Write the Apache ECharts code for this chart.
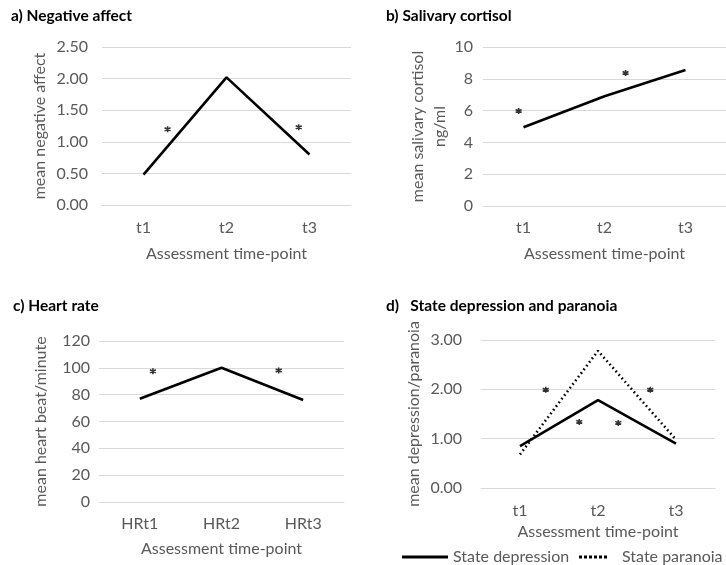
<!DOCTYPE html>
<html>
<head>
<meta charset="utf-8">
<script src="https://cdn.jsdelivr.net/npm/echarts@6/dist/echarts.min.js"></script>
<style>html,body{margin:0;padding:0;background:#fff}#c{width:726px;height:565px}</style>
</head>
<body>
<div id="c"></div>
<script>
// ---- data ----
const timeCats = ['t1', 't2', 't3'];
const hrCats = ['HRt1', 'HRt2', 'HRt3'];
const negativeAffect = [0.48, 2.02, 0.80];
const cortisol = [4.95, 6.9, 8.55];
const heartRate = [77, 100, 76];
const stateDepression = [0.85, 1.78, 0.90];
const stateParanoia = [0.68, 2.78, 0.98];
// significance asterisks: [position along category index, value]
const starsA = [[0.29, 1.20], [1.87, 1.23]];
const starsB = [[-0.06, 5.97], [1.26, 8.37]];
const starsC = [[0.16, 97.5], [1.70, 98]];
const starsD = [[0.33, 1.99], [0.76, 1.34], [1.26, 1.32], [1.67, 1.99]];
// y axis ticks
const yTicksA = [0, 0.5, 1, 1.5, 2, 2.5];
const yTicksB = [0, 2, 4, 6, 8, 10];
const yTicksC = [0, 20, 40, 60, 80, 100, 120];
const yTicksD = [0, 1, 2, 3];

const FONT = 'Lato';
const GREY = '#595959';
const GRID = '#d9d9d9';
const FS = 16;

const grids = [
  {left: 102, top: 47, width: 249, height: 158},
  {left: 483, top: 47, width: 261, height: 159},
  {left: 99, top: 341, width: 245, height: 161},
  {left: 481, top: 340, width: 234, height: 148}
];

function ticksAxis(t) {
  return {min: t[0], max: t[t.length - 1], interval: t[1] - t[0]};
}

function yAxis(i, ticks, name, gap, labMargin, fmt) {
  return Object.assign({
    type: 'value', gridIndex: i,
    name: name, nameLocation: 'middle', nameGap: gap,
    nameTextStyle: {color: GREY, fontFamily: FONT, fontSize: FS, lineHeight: 22},
    axisLine: {show: false}, axisTick: {show: false},
    axisLabel: {color: GREY, fontFamily: FONT, fontSize: FS, margin: labMargin,
      formatter: fmt},
    splitLine: {lineStyle: {color: GRID, width: 1}}
  }, ticksAxis(ticks));
}

function xCat(i, cats, gap, margin) {
  return {
    type: 'category', gridIndex: i, data: cats,
    name: 'Assessment time-point', nameLocation: 'middle', nameGap: gap,
    nameTextStyle: {color: GREY, fontFamily: FONT, fontSize: FS},
    axisLine: {lineStyle: {color: GRID, width: 1}}, axisTick: {show: false},
    axisLabel: {color: GREY, fontFamily: FONT, fontSize: FS, margin: margin}
  };
}
function xHidden(i) {
  return {type: 'value', gridIndex: i, min: -0.5, max: 2.5, show: false};
}

const two = v => v.toFixed(2);
const starSymbol = 'path://M0,-1L0,1M-0.87,-0.5L0.87,0.5M-0.87,0.5L0.87,-0.5';
const dottedIcon = 'path://M0,0h3v3h-3zM5,0h3v3h-3zM10,0h3v3h-3zM15,0h3v3h-3zM20,0h3v3h-3zM25,0h3v3h-3z';

function stars(i, data) {
  return {
    type: 'scatter', xAxisIndex: i * 2 + 1, yAxisIndex: i, data: data,
    symbol: starSymbol, symbolSize: 6,
    itemStyle: {color: '#000', borderColor: '#000', borderWidth: 1.6},
    silent: true
  };
}
function line(i, name, data, type) {
  return {
    type: 'line', name: name, xAxisIndex: i * 2, yAxisIndex: i, data: data,
    symbol: 'none', showSymbol: false, smooth: false,
    lineStyle: {color: '#000', width: 2.6, type: type || 'solid'},
    itemStyle: {color: '#000'}
  };
}

const titleStyle = {color: '#000', fontFamily: FONT, fontSize: 15.5, fontWeight: 'bold'};
const legendText = {color: GREY, fontFamily: FONT, fontSize: FS};

const option = {
  animation: false,
  backgroundColor: '#fff',
  title: [
    {text: 'a) Negative affect', left: 6, top: 3, textStyle: titleStyle},
    {text: 'b) Salivary cortisol', left: 381, top: 3, textStyle: titleStyle},
    {text: 'c) Heart rate', left: 8, top: 293, textStyle: titleStyle},
    {text: 'd)   State depression and paranoia', left: 381, top: 293, textStyle: titleStyle}
  ],
  grid: grids,
  xAxis: [
    xCat(0, timeCats, 41, 15), xHidden(0),
    xCat(1, timeCats, 40, 14), xHidden(1),
    xCat(2, hrCats, 39, 14), xHidden(2),
    xCat(3, timeCats, 36, 15), xHidden(3)
  ],
  yAxis: [
    yAxis(0, yTicksA, 'mean negative affect', 51, 14, two),
    yAxis(1, yTicksB, 'mean salivary cortisol\nng/ml', 32, 10),
    yAxis(2, yTicksC, 'mean heart beat/minute', 47, 9),
    yAxis(3, yTicksD, 'mean depression/paranoia', 56, 19, two)
  ],
  legend: [
    {data: [{name: 'State depression', icon: 'rect'}], left: 397, top: 544, itemWidth: 46, itemHeight: 3,
      itemStyle: {color: '#000'},
      textStyle: legendText},
    {data: [{name: 'State paranoia', icon: dottedIcon}], left: 574, top: 544, itemWidth: 28, itemHeight: 3,
      itemStyle: {color: '#000'},
      textStyle: Object.assign({padding: [0, 0, 0, 10]}, legendText)}
  ],
  series: [
    line(0, 'Negative affect', negativeAffect),
    stars(0, starsA),
    line(1, 'Salivary cortisol', cortisol),
    stars(1, starsB),
    line(2, 'Heart rate', heartRate),
    stars(2, starsC),
    line(3, 'State depression', stateDepression),
    line(3, 'State paranoia', stateParanoia, [1.6, 3]),
    stars(3, starsD)
  ]
};
const chart = echarts.init(document.getElementById('c'), null, {renderer: 'canvas'});
chart.setOption(option);
</script>
</body>
</html>
